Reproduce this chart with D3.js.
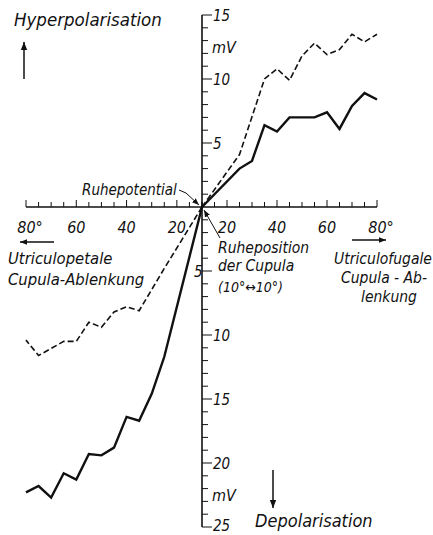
<!DOCTYPE html>
<html>
<head>
<meta charset="utf-8">
<script src="https://cdn.jsdelivr.net/npm/d3@7/dist/d3.min.js"></script>
<style>
  body { margin: 0; background: #fff; }
  svg text { font-family: "DejaVu Sans Condensed", "Liberation Sans Narrow", "DejaVu Sans", sans-serif; font-style: italic; fill: #111; }
</style>
</head>
<body>
<div class="chart"></div>
<script>
// deflection in degrees, negative = utriculopetal (left), positive = utriculofugal (right)
var fugalSolidDeg = [10, 25, 30, 35, 40, 45, 55, 60, 65, 70, 75, 80];
var fugalSolidMv = [0, 3.0, 3.6, 6.4, 5.9, 7.0, 7.0, 7.4, 6.1, 7.9, 8.9, 8.4];
var fugalDashDeg = [10, 25, 35, 40, 45, 50, 55, 60, 65, 70, 75, 80];
var fugalDashMv = [0, 4.1, 10.0, 10.8, 9.9, 11.8, 12.8, 11.9, 12.3, 13.5, 12.9, 13.5];
var petalSolidDeg = [-10, -25, -30, -35, -40, -45, -50, -55, -60, -65, -70, -75, -80];
var petalSolidMv = [0, -11.7, -14.6, -16.7, -16.4, -18.8, -19.4, -19.3, -21.3, -20.8, -22.7, -21.8, -22.3];
var petalDashDeg = [-10, -25, -35, -40, -45, -50, -55, -60, -65, -75, -80];
var petalDashMv = [0, -4.8, -8.1, -7.8, -8.2, -9.4, -9.0, -10.5, -10.5, -11.6, -10.4];

var xTickLabels = ["80°", "60", "40", "20", "20", "40", "60", "80°"];
var xTickValues = [-80, -60, -40, -20, 20, 40, 60, 80];
var yLabelValues = [15, 10, 5, -10, -15, -20, -25];

var width = 433, height = 535;

var svg = d3.select(".chart").append("svg")
  .attr("width", width)
  .attr("height", height);

var defs = svg.append("defs");
defs.append("marker")
  .attr("id", "head")
  .attr("viewBox", "0 0 10 10")
  .attr("refX", 10).attr("refY", 5)
  .attr("markerWidth", 7).attr("markerHeight", 7)
  .attr("markerUnits", "userSpaceOnUse")
  .attr("orient", "auto")
  .append("path")
  .attr("d", "M0,1 L10,5 L0,9 Z")
  .attr("fill", "#111");
defs.append("marker")
  .attr("id", "bighead")
  .attr("viewBox", "0 0 10 10")
  .attr("refX", 10).attr("refY", 5)
  .attr("markerWidth", 10).attr("markerHeight", 8)
  .attr("markerUnits", "userSpaceOnUse")
  .attr("orient", "auto")
  .append("path")
  .attr("d", "M0,1 L10,5 L0,9 Z")
  .attr("fill", "#111");

// rest zone (10° each side) collapses onto the origin
var x = d3.scaleLinear()
  .domain([-80, -10, 10, 80])
  .range([26, 202, 202, 377]);

var y = d3.scaleLinear()
  .domain([-25, 15])
  .range([527, 15]);

var x0 = x(10), y0 = y(0);

// x axis
svg.append("line")
  .attr("x1", x(-80)).attr("x2", x(80))
  .attr("y1", y0).attr("y2", y0)
  .attr("stroke", "#111").attr("stroke-width", 1.4);

var xMinor = d3.range(10, 81, 5);
xMinor.forEach(function(d){
  [-d, d].forEach(function(v){
    var big = (d % 20 == 0);
    svg.append("line")
      .attr("x1", x(v)).attr("x2", x(v))
      .attr("y1", y0).attr("y2", y0 - (big ? 7 : 5))
      .attr("stroke", "#111").attr("stroke-width", 1);
  });
});

svg.selectAll(".xlab")
  .data(xTickValues)
  .enter()
  .append("text")
  .attr("class", "xlab")
  .attr("x", function(d){ return x(d) + (Math.abs(d) == 80 ? 4 : 0); })
  .attr("y", 233)
  .attr("text-anchor", "middle")
  .style("font-size", "16px")
  .text(function(d, i){ return xTickLabels[i]; });

// y axis
svg.append("line")
  .attr("x1", x0).attr("x2", x0)
  .attr("y1", y(15)).attr("y2", y(-25))
  .attr("stroke", "#111").attr("stroke-width", 1.6);

d3.range(-25, 16, 1).forEach(function(v){
  if (v == 0) return;
  var big = (v % 5 == 0);
  svg.append("line")
    .attr("x1", x0).attr("x2", x0 + (big ? 10 : 6))
    .attr("y1", y(v)).attr("y2", y(v))
    .attr("stroke", "#111").attr("stroke-width", 1);
});

svg.selectAll(".ylab")
  .data(yLabelValues)
  .enter()
  .append("text")
  .attr("class", "ylab")
  .attr("x", x0 + 11)
  .attr("y", function(d){ return y(d) + (d == -25 ? 4 : 6); })
  .style("font-size", "15px")
  .text(function(d){ return Math.abs(d); });

svg.append("text")
  .attr("x", x0 - 8).attr("y", y(-5) + 6)
  .style("font-size", "15px")
  .text("5");

svg.append("text")
  .attr("x", x0 + 10).attr("y", y(12.5) + 6)
  .style("font-size", "16px")
  .text("mV");
svg.append("text")
  .attr("x", x0 + 10).attr("y", y(-22.5) + 6)
  .style("font-size", "16px")
  .text("mV");

// curves
var line = d3.line()
  .x(function(d){ return x(d[0]); })
  .y(function(d){ return y(d[1]); });

function pairs(a, b){
  return a.map(function(d, i){ return [d, b[i]]; });
}

var series = [
  {data: pairs(fugalSolidDeg, fugalSolidMv), dash: null},
  {data: pairs(petalSolidDeg, petalSolidMv), dash: null},
  {data: pairs(fugalDashDeg, fugalDashMv), dash: "6,3"},
  {data: pairs(petalDashDeg, petalDashMv), dash: "6,3"}
];

series.forEach(function(s){
  svg.append("path")
    .datum(s.data)
    .attr("d", line)
    .attr("fill", "none")
    .attr("stroke", "#111")
    .attr("stroke-width", s.dash ? 1.6 : 2.4)
    .attr("stroke-linejoin", "miter")
    .attr("stroke-dasharray", s.dash);
});

// annotations
svg.append("text").attr("x", 14).attr("y", 26)
  .style("font-size", "18.5px").text("Hyperpolarisation");
svg.append("line")
  .attr("x1", 24).attr("x2", 24).attr("y1", 79).attr("y2", 42)
  .attr("stroke", "#111").attr("stroke-width", 1.5)
  .attr("marker-end", "url(#bighead)");

svg.append("text").attr("x", 82).attr("y", 195)
  .style("font-size", "15px").text("Ruhepotential");
svg.append("path")
  .attr("d", "M179,190 L186,193 L199,205")
  .attr("fill", "none").attr("stroke", "#111").attr("stroke-width", 1)
  .attr("marker-end", "url(#head)");

svg.append("line")
  .attr("x1", 54).attr("x2", 20).attr("y1", 242).attr("y2", 242)
  .attr("stroke", "#111").attr("stroke-width", 1.5)
  .attr("marker-end", "url(#head)");
svg.append("text").attr("x", 8).attr("y", 264)
  .style("font-size", "16.5px").text("Utriculopetale");
svg.append("text").attr("x", 8).attr("y", 285)
  .style("font-size", "16.5px").text("Cupula-Ablenkung");

svg.append("line")
  .attr("x1", 352).attr("x2", 386).attr("y1", 240).attr("y2", 240)
  .attr("stroke", "#111").attr("stroke-width", 1.5)
  .attr("marker-end", "url(#head)");
svg.append("text").attr("x", 383).attr("y", 264).attr("text-anchor", "middle")
  .style("font-size", "15.5px").text("Utriculofugale");
svg.append("text").attr("x", 384).attr("y", 283).attr("text-anchor", "middle")
  .style("font-size", "15.5px").text("Cupula - Ab-");
svg.append("text").attr("x", 389).attr("y", 302).attr("text-anchor", "middle")
  .style("font-size", "15.5px").text("lenkung");

svg.append("text").attr("x", 218).attr("y", 253)
  .style("font-size", "15.5px").text("Ruheposition");
svg.append("text").attr("x", 218).attr("y", 271)
  .style("font-size", "15.5px").text("der Cupula");
svg.append("text").attr("x", 218).attr("y", 292)
  .style("font-size", "14px").text("(10°\u219410°)");
svg.append("line")
  .attr("x1", 220).attr("x2", 204).attr("y1", 238).attr("y2", 210)
  .attr("stroke", "#111").attr("stroke-width", 1)
  .attr("marker-end", "url(#head)");

svg.append("text").attr("x", 255).attr("y", 527)
  .style("font-size", "18px").text("Depolarisation");
svg.append("line")
  .attr("x1", 273).attr("x2", 273).attr("y1", 470).attr("y2", 508)
  .attr("stroke", "#111").attr("stroke-width", 1.5)
  .attr("marker-end", "url(#bighead)");
</script>
</body>
</html>
